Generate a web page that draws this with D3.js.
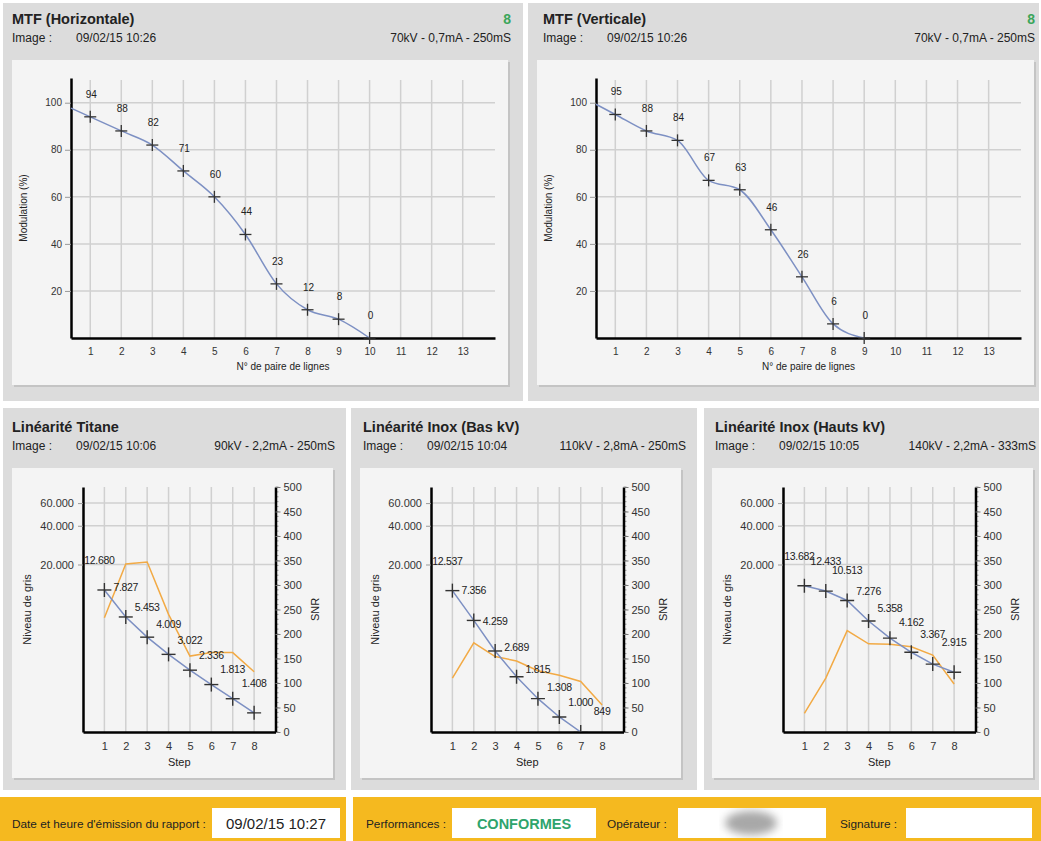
<!DOCTYPE html>
<html>
<head>
<meta charset="utf-8">
<script src="https://cdn.jsdelivr.net/npm/d3@7"></script>
<style>
  body { margin: 0; background: #fff; }
  svg text { font-family: "Liberation Sans", Arial, sans-serif; fill: #222; }
</style>
</head>
<body>
<svg id="report" width="1041" height="841"></svg>
<script>
// ---- data ----
var mtfPairs = [1, 2, 3, 4, 5, 6, 7, 8, 9, 10, 11, 12, 13];
var mtfTicks = [20, 40, 60, 80, 100];
var mtfHoriz = [94, 88, 82, 71, 60, 44, 23, 12, 8, 0];
var mtfVert = [95, 88, 84, 67, 63, 46, 26, 6, 0];

var steps = [1, 2, 3, 4, 5, 6, 7, 8];
var grayTicks = [20000, 40000, 60000];
var snrTicks = [0, 50, 100, 150, 200, 250, 300, 350, 400, 450, 500];

var titaneGray = [12680, 7827, 5453, 4009, 3022, 2336, 1813, 1408];
var titaneSnr = [233, 343, 347, 240, 155, 162, 162, 123];
var inoxBasGray = [12537, 7356, 4259, 2689, 1815, 1308, 1000, 849];
var inoxBasSnr = [110, 182, 154, 145, 125, 116, 103, 55];
var inoxHautGray = [13682, 12433, 10513, 7276, 5358, 4162, 3367, 2915];
var inoxHautSnr = [38, 110, 207, 180, 179, 174, 157, 98];

var svg = d3.select("#report");
var fr = d3.formatLocale({decimal: ",", thousands: ".", grouping: [3], currency: ["", ""]});
var fmtGray = fr.format(",d");

var BLUE = "#7d90c3", ORANGE = "#f2aa45", GRID = "#d0d0d0";

var defs = svg.append("defs");
defs.append("filter").attr("id", "blur")
  .append("feGaussianBlur").attr("stdDeviation", 4);

function panel(x, y, w, h, tx, title, imgTime, params, score, ty, boxRight) {
  svg.append("rect").attr("x", x).attr("y", y).attr("width", w).attr("height", h)
    .attr("fill", "#dcdcdc");
  svg.append("text").attr("x", tx).attr("y", y + ty)
    .style("font-size", "14.5px").style("font-weight", "bold").text(title);
  svg.append("text").attr("x", tx).attr("y", y + ty + 18)
    .style("font-size", "12px").text("Image :");
  svg.append("text").attr("x", tx + 64).attr("y", y + ty + 18)
    .style("font-size", "12px").text(imgTime);
  svg.append("text").attr("x", boxRight + 3).attr("y", y + ty + 18)
    .attr("text-anchor", "end").style("font-size", "12px").text(params);
  if (score) {
    svg.append("text").attr("x", boxRight + 3).attr("y", y + ty)
      .attr("text-anchor", "end").style("font-size", "14px").style("font-weight", "bold")
      .style("fill", "#3aa65a").text(score);
  }
}

function chartBox(x, y, w, h) {
  svg.append("rect").attr("x", x + 2).attr("y", y + 2).attr("width", w).attr("height", h)
    .attr("fill", "#c4c4c4");
  svg.append("rect").attr("x", x).attr("y", y).attr("width", w).attr("height", h)
    .attr("fill", "#f4f4f4");
}

function cross(g, cx, cy, r) {
  g.append("line").attr("x1", cx - r).attr("x2", cx + r).attr("y1", cy).attr("y2", cy);
  g.append("line").attr("x1", cx).attr("x2", cx).attr("y1", cy - r).attr("y2", cy + r);
}

function mtfChart(bx, by, bw, bh, values) {
  chartBox(bx, by, bw, bh);
  var x = d3.scaleLinear().domain([0.38, 14.04]).range([bx + 59, bx + bw - 13]);
  var y = d3.scaleLinear().domain([0, 110.5]).range([by + bh - 47, by + 18]);
  var g = svg.append("g");

  // grid
  g.selectAll(".vg").data(mtfPairs).enter().append("line")
    .attr("x1", d => x(d)).attr("x2", d => x(d))
    .attr("y1", y(110.5) + 2).attr("y2", y(0))
    .attr("stroke", GRID).attr("stroke-width", 1.5);
  g.selectAll(".hg").data(mtfTicks).enter().append("line")
    .attr("x1", x.range()[0]).attr("x2", x.range()[1])
    .attr("y1", d => y(d)).attr("y2", d => y(d))
    .attr("stroke", GRID).attr("stroke-width", 1.5);

  // axes
  var ay = g.append("g").attr("transform", "translate(" + x.range()[0] + ",0)")
    .call(d3.axisLeft(y).tickValues(mtfTicks).tickSize(6).tickSizeOuter(0).tickPadding(3));
  ay.select(".domain").attr("stroke", "#000").attr("stroke-width", 2.5);
  ay.selectAll(".tick line").attr("stroke", "#999");
  ay.selectAll("text").style("font-size", "10px").style("fill", "#333");
  var ax = g.append("g").attr("transform", "translate(0," + y(0) + ")")
    .call(d3.axisBottom(x).tickValues(mtfPairs).tickSize(0).tickPadding(10));
  ax.select(".domain").attr("stroke", "#000").attr("stroke-width", 2.5);
  ax.selectAll("text").style("font-size", "10px").style("fill", "#333");

  g.append("text").attr("transform", "translate(" + (bx + 15) + "," + ((y(0) + y(110.5)) / 2) + ") rotate(-90)")
    .attr("text-anchor", "middle").style("font-size", "10px").text("Modulation (%)");
  g.append("text").attr("x", (x.range()[0] + x.range()[1]) / 2).attr("y", y(0) + 32)
    .attr("text-anchor", "middle").style("font-size", "10px").text("N° de paire de lignes");

  // curve, extended back to the axis from the first two points
  var pts = values.map((v, i) => [i + 1, v]);
  var x0 = x.domain()[0];
  var lead = [x0, values[0] + (values[0] - values[1]) * (1 - x0)];
  var line = d3.line().x(d => x(d[0])).y(d => y(d[1])).curve(d3.curveMonotoneX);
  g.append("path").datum([lead].concat(pts)).attr("d", line)
    .attr("fill", "none").attr("stroke", BLUE).attr("stroke-width", 1.5);

  var mk = g.append("g").attr("stroke", "#333").attr("stroke-width", 1.3);
  pts.forEach(d => cross(mk, x(d[0]), y(d[1]), 6));

  g.selectAll(".lbl").data(pts).enter().append("text")
    .attr("x", d => x(d[0]) + 1).attr("y", d => y(d[1]) - 19)
    .attr("text-anchor", "middle").style("font-size", "10px").text(d => d[1]);
}

var clipN = 0;
function linChart(bx, by, gray, snr) {
  var bw = 321, bh = 310;
  chartBox(bx, by, bw, bh);
  var x = d3.scaleLinear().domain([0, 9]).range([bx + 71, bx + 263.5]);
  var yG = d3.scaleLog().domain([1000, 80000]).range([by + 264, by + 19]);
  var yS = d3.scaleLinear().domain([0, 500]).range([by + 264, by + 19]);
  var g = svg.append("g");
  var x1 = x.range()[0], x2 = x.range()[1], yb = yS(0), yt = yS(500);

  var cid = "clip" + (clipN++);
  defs.append("clipPath").attr("id", cid).append("rect")
    .attr("x", x1).attr("y", yt).attr("width", x2 - x1).attr("height", yb - yt);

  g.selectAll(".vg").data(steps).enter().append("line")
    .attr("x1", d => x(d)).attr("x2", d => x(d)).attr("y1", yt).attr("y2", yb)
    .attr("stroke", GRID).attr("stroke-width", 1.5);
  g.selectAll(".hg").data(grayTicks).enter().append("line")
    .attr("x1", x1).attr("x2", x2).attr("y1", d => yG(d)).attr("y2", d => yG(d))
    .attr("stroke", GRID).attr("stroke-width", 1.5);

  // left axis (grey levels, log)
  var al = g.append("g").attr("transform", "translate(" + x1 + ",0)")
    .call(d3.axisLeft(yG).tickValues(grayTicks).tickFormat(fmtGray).tickSize(5).tickSizeOuter(0).tickPadding(4));
  al.select(".domain").attr("stroke", "#000").attr("stroke-width", 2.5);
  al.selectAll(".tick line").attr("stroke", "#999");
  al.selectAll("text").style("font-size", "11px").style("fill", "#333");

  // right axis (SNR) with minor ticks
  var minor = d3.range(0, 501, 10);
  g.selectAll(".mt").data(minor).enter().append("line")
    .attr("x1", x2).attr("x2", x2 + 3).attr("y1", d => yS(d)).attr("y2", d => yS(d))
    .attr("stroke", "#999");
  var ar = g.append("g").attr("transform", "translate(" + x2 + ",0)")
    .call(d3.axisRight(yS).tickValues(snrTicks).tickSize(5).tickSizeOuter(0).tickPadding(3));
  ar.select(".domain").attr("stroke", "#000").attr("stroke-width", 2.5);
  ar.selectAll(".tick line").attr("stroke", "#777");
  ar.selectAll("text").style("font-size", "11px").style("fill", "#333");

  var ab = g.append("g").attr("transform", "translate(0," + yb + ")")
    .call(d3.axisBottom(x).tickValues(steps).tickSize(0).tickPadding(10));
  ab.select(".domain").attr("stroke", "#000").attr("stroke-width", 2.5);
  ab.selectAll("text").style("font-size", "11px").style("fill", "#333");

  var midY = (yb + yt) / 2;
  g.append("text").attr("transform", "translate(" + (bx + 19) + "," + midY + ") rotate(-90)")
    .attr("text-anchor", "middle").style("font-size", "11px").text("Niveau de gris");
  g.append("text").attr("transform", "translate(" + (bx + 307) + "," + midY + ") rotate(-90)")
    .attr("text-anchor", "middle").style("font-size", "11px").text("SNR");
  g.append("text").attr("x", (x(1) + x(8)) / 2).attr("y", yb + 34)
    .attr("text-anchor", "middle").style("font-size", "11px").text("Step");

  var plot = g.append("g").attr("clip-path", "url(#" + cid + ")");
  plot.append("path").datum(snr)
    .attr("d", d3.line().x((d, i) => x(steps[i])).y(d => yS(d)))
    .attr("fill", "none").attr("stroke", ORANGE).attr("stroke-width", 1.5);
  plot.append("path").datum(gray)
    .attr("d", d3.line().x((d, i) => x(steps[i])).y(d => yG(d)))
    .attr("fill", "none").attr("stroke", BLUE).attr("stroke-width", 1.5);
  var mk = plot.append("g").attr("stroke", "#333").attr("stroke-width", 1.4);
  gray.forEach((d, i) => cross(mk, x(steps[i]), yG(d), 7));

  // value labels; the first one sits a little left, as in the report
  g.selectAll(".lbl").data(gray).enter().append("text")
    .attr("x", (d, i) => x(steps[i]) - (i === 0 ? 5 : 0)).attr("y", d => yG(d) - 26)
    .attr("text-anchor", "middle").style("font-size", "10.5px").style("letter-spacing", "-0.3px")
    .text(d => fmtGray(d));
}

// ---- top row: MTF ----
panel(3, 3, 520, 398, 12, "MTF (Horizontale)", "09/02/15 10:26", "70kV -  0,7mA - 250mS", "8", 21, 508);
mtfChart(12, 60, 496, 325, mtfHoriz);
panel(528, 3, 511, 398, 543, "MTF (Verticale)", "09/02/15 10:26", "70kV -  0,7mA - 250mS", "8", 21, 1032);
mtfChart(537, 60, 497, 325, mtfVert);

// ---- bottom row: linearity ----
panel(3, 408, 343, 382, 12, "Linéarité Titane", "09/02/15 10:06", "90kV -  2,2mA - 250mS", null, 24, 332);
linChart(12, 468, titaneGray, titaneSnr);
panel(351, 408, 346, 382, 363, "Linéarité Inox (Bas kV)", "09/02/15 10:04", "110kV -  2,8mA - 250mS", null, 24, 683);
linChart(360, 468, inoxBasGray, inoxBasSnr);
panel(704, 408, 335, 382, 715, "Linéarité Inox (Hauts kV)", "09/02/15 10:05", "140kV -  2,2mA - 333mS", null, 24, 1033);
linChart(712, 468, inoxHautGray, inoxHautSnr);

// ---- footer ----
var YEL = "#f5b91f";
svg.append("rect").attr("x", 0).attr("y", 797).attr("width", 346).attr("height", 44).attr("fill", YEL);
svg.append("rect").attr("x", 353).attr("y", 797).attr("width", 688).attr("height", 44).attr("fill", YEL);
function whiteBox(x, w) {
  svg.append("rect").attr("x", x).attr("y", 808).attr("width", w).attr("height", 30).attr("fill", "#fff");
}
whiteBox(212, 128); whiteBox(452, 144); whiteBox(678, 148); whiteBox(906, 126);
svg.append("text").attr("x", 12).attr("y", 828).style("font-size", "11.8px").text("Date et heure d'émission du rapport :");
svg.append("text").attr("x", 276).attr("y", 829).attr("text-anchor", "middle").style("font-size", "15px").text("09/02/15 10:27");
svg.append("text").attr("x", 366).attr("y", 828).style("font-size", "11.8px").text("Performances :");
svg.append("text").attr("x", 524).attr("y", 829).attr("text-anchor", "middle").style("font-size", "14.5px")
  .style("font-weight", "bold").style("fill", "#2fa46c").text("CONFORMES");
svg.append("text").attr("x", 607).attr("y", 828).style("font-size", "11.8px").text("Opérateur :");
svg.append("ellipse").attr("cx", 751).attr("cy", 823).attr("rx", 26).attr("ry", 12)
  .attr("fill", "#a8a8a8").attr("filter", "url(#blur)");
svg.append("text").attr("x", 840).attr("y", 828).style("font-size", "11.8px").text("Signature :");
</script>
</body>
</html>
